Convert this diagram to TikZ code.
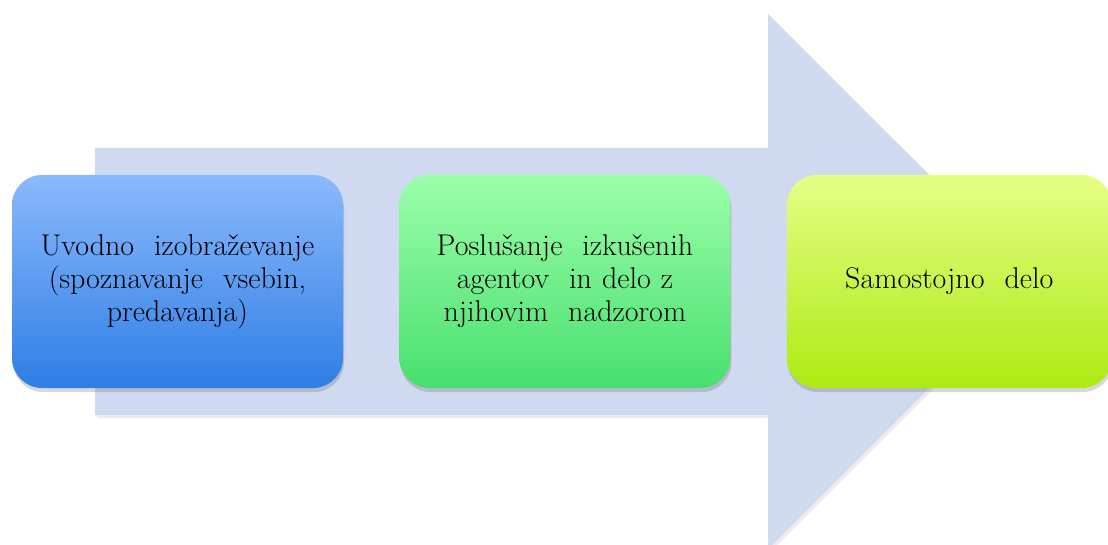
\documentclass[tikz,border=0pt]{standalone}
\usetikzlibrary{positioning, shadows}
\definecolor{arrowfill}{HTML}{CFD9EF}
\definecolor{blueTop}{HTML}{8BB9FC}
\definecolor{blueBot}{HTML}{2E7EE6}
\definecolor{greenTop}{HTML}{9BFEA9}
\definecolor{greenBot}{HTML}{48DF6E}
\definecolor{limeTop}{HTML}{E5FE86}
\definecolor{limeBot}{HTML}{ADEA12}

\begin{document}
\begin{tikzpicture}[
    x=1pt, y=-1pt,
    every node/.style={font=\fontsize{30}{33}\selectfont},
    node distance = 0pt and 56pt,
    stage/.style ={rounded corners=30pt, align=center, text width=325pt,
                   minimum width=331pt, minimum height=213pt, inner sep=0pt,
                   drop shadow={shadow xshift=1pt, shadow yshift=-4pt,
                                opacity=0.22, fill=black!70}},
    blueStage/.style ={stage, top color=blueTop, bottom color=blueBot},
    greenStage/.style={stage, top color=greenTop, bottom color=greenBot},
    limeStage/.style ={stage, top color=limeTop, bottom color=limeBot},
]
\useasboundingbox (0,0) rectangle (1108,545);
% the big arrow behind the stages
\fill[arrowfill, drop shadow={shadow xshift=2pt, shadow yshift=-3pt, opacity=0.15}]
  (95,148) -- (768,148) -- (768,14) -- (1036,281.5) -- (768,549)
  -- (768,415) -- (95,415) -- cycle;
\node[blueStage] (intro) at (177.5,281.5)
   {Uvodno\ \ izobraževanje\\(spoznavanje\ \ vsebin,\\predavanja)};
\node[greenStage, right=of intro] (mentor)
   {Poslušanje\ \ izkušenih\\agentov\ \ in delo z\\njihovim\ \ nadzorom};
\node[limeStage, right=of mentor, minimum width=323pt] (alone)
   {Samostojno\ \ delo};
\end{tikzpicture}
\end{document}
